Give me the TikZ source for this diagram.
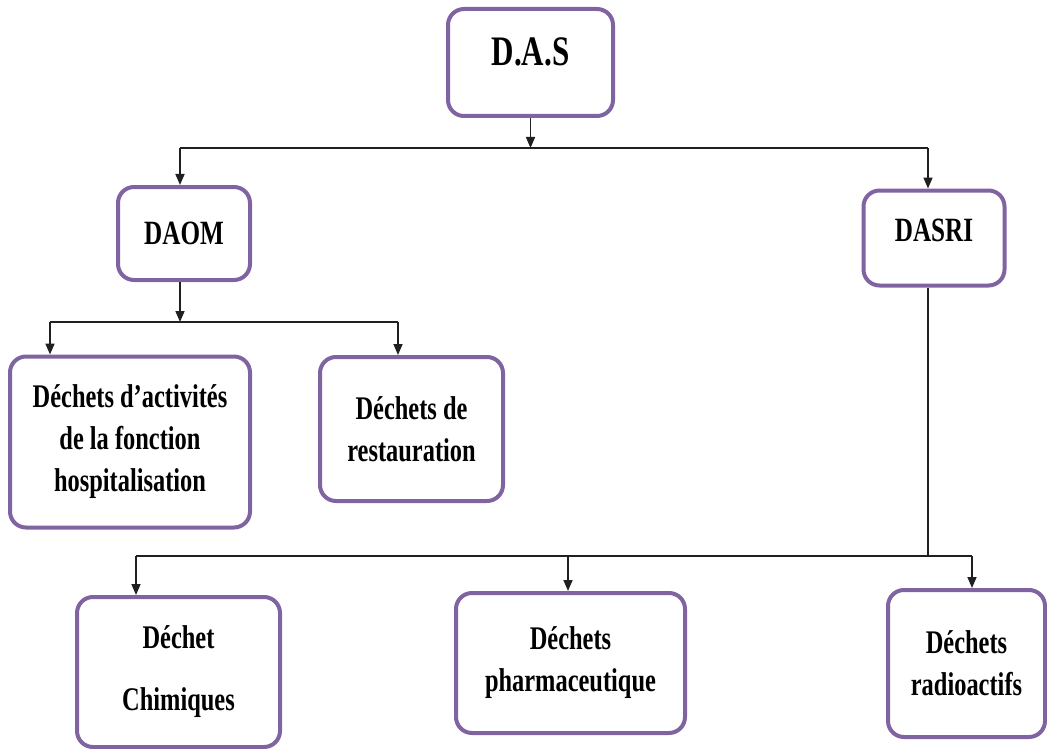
\documentclass[tikz,border=0pt]{standalone}
\usepackage{fontspec}
\setmainfont{Liberation Serif}[FakeStretch=0.74]
\usetikzlibrary{arrows.meta}
\definecolor{boxpurple}{HTML}{8064A2}
\definecolor{linegray}{HTML}{202020}
\newcommand\shiftedtext[2]{\raisebox{#1}[\height][\depth]{\begin{tabular}{@{}c@{}}#2\end{tabular}}}
\begin{document}
\begin{tikzpicture}[x=1pt,y=-1pt,
  box/.style={draw=boxpurple,line width=4pt,rounded corners=16pt,fill=white,
    align=center,inner sep=0pt,font=\bfseries\fontsize{33}{42}\selectfont},
  bigtext/.style={font=\bfseries\fontsize{42}{50}\selectfont},
  midtext/.style={font=\bfseries\fontsize{34}{40}\selectfont},
  conn/.style={draw=linegray,line width=1.6pt},
  arr/.style={conn,-{Triangle[length=11pt,width=9pt]}}]
\useasboundingbox (0,0) rectangle (1047,749);
% boxes
\node[box,bigtext,minimum width=165pt,minimum height=107pt] (das) at (530.5,62.5) {\shiftedtext{7pt}{D.A.S}};
\node[box,midtext,minimum width=132pt,minimum height=93pt] (daom) at (184,233.5) {DAOM};
\node[box,midtext,minimum width=141pt,minimum height=95pt] (dasri) at (934,238) {\shiftedtext{5pt}{DASRI}};
\node[box,minimum width=240pt,minimum height=171pt] (hosp) at (130,442) {Déchets d’activités\\de la fonction\\hospitalisation};
\node[box,minimum width=183pt,minimum height=144pt] (rest) at (411.5,429) {Déchets de\\restauration};
\node[box,minimum width=203pt,minimum height=150pt,font=\bfseries\fontsize{33}{62}\selectfont] (chim) at (178.5,672) {Déchet\\Chimiques};
\node[box,minimum width=229pt,minimum height=140pt] (pharm) at (570.5,663) {Déchets\\pharmaceutique};
\node[box,minimum width=157pt,minimum height=147pt] (radio) at (966.5,663.5) {Déchets\\radioactifs};
% bus coordinates
\coordinate (busAl) at (180,148);
\coordinate (busAr) at (928,148);
\coordinate (busBl) at (50,322);
\coordinate (busBr) at (398,322);
\coordinate (daomout) at (180,322);
\coordinate (busCl) at (136,556);
\coordinate (busCm) at (568,556);
\coordinate (busCr) at (972,556);
\coordinate (dasriout) at (928,556);
% connectors level 1
\draw[arr] (das.south) -- (das.south |- busAl);
\draw[conn] (busAl) -- (busAr);
\draw[arr] (busAl) -- (busAl |- daom.north);
\draw[arr] (busAr) -- (busAr |- dasri.north);
% DAOM branch
\draw[arr] (daomout |- daom.south) -- (daomout);
\draw[conn] (busBl) -- (busBr);
\draw[arr] (busBl) -- (busBl |- hosp.north);
\draw[arr] (busBr) -- (busBr |- rest.north);
% DASRI branch
\draw[conn] (dasriout |- dasri.south) -- (dasriout);
\draw[conn] (busCl) -- (busCr);
\draw[arr] (busCl) -- (busCl |- chim.north);
\draw[arr] (busCm) -- (busCm |- pharm.north);
\draw[arr] (busCr) -- (busCr |- radio.north);
\end{tikzpicture}
\end{document}
